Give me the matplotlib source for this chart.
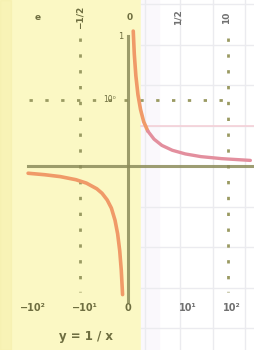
"""y = 1/x sketch: yellow half-plane for x < small, light grid on the right."""

import matplotlib
matplotlib.use("Agg")
import matplotlib.pyplot as plt

# ---- values ----
left_x = [-1.92, -1.6, -1.3, -1.0, -0.8, -0.6, -0.5, -0.4, -0.32, -0.25, -0.2, -0.16, -0.13, -0.105]
left_y = [-0.52, -0.63, -0.77, -1.0, -1.25, -1.67, -2.0, -2.5, -3.1, -4.0, -5.0, -6.25, -7.7, -9.5]
right_x = [0.1, 0.12, 0.15, 0.19, 0.24, 0.3, 0.38, 0.5, 0.65, 0.85, 1.1, 1.4, 1.8, 2.35]
right_y = [10.0, 8.3, 6.7, 5.3, 4.2, 3.3, 2.6, 2.0, 1.54, 1.18, 0.91, 0.71, 0.56, 0.43]

bottom_ticks = [-1.83, -0.83, 0.0, 1.15, 2.0]
bottom_labels = ["−10²", "−10¹", "0", "10¹", "10²"]
top_ticks = [-1.73, -0.92, 0.04, 0.96, 1.9]
top_labels = ["e", "−1/2", "0", "1/2", "10"]
top_rot = [0, 90, 0, 90, 90]

grid_x = [0.33, 1.0, 1.63, 2.25]
grid_y = [12, 9, 6, 3, -3, -6, -9, -12]
guide_x = [-0.92, 1.92]
guide_y = 4.9
split_x = 0.25

YELLOW = "#fbf8c4"
OLIVE = "#8c8c5a"
ORANGE = "#f09a68"
PINK = "#e38f9e"

fig = plt.figure(figsize=(2.54, 3.5), dpi=100)
ax = fig.add_axes([0, 0, 1, 1])
ax.set_xlim(-2.46, 2.42)
ax.set_ylim(-13.6, 12.3)
ax.axis("off")

# background: yellow half, grid on the white half
ax.axvspan(-2.46, split_x, color=YELLOW, zorder=0)
ax.axvspan(-2.46, -2.25, color="#f3eb9e", alpha=0.35, zorder=0)
ax.axvspan(split_x, 0.6, color="#faf8fc", zorder=0)
for gx in grid_x:
    ax.axvline(gx, color="#ebebef", lw=1.0, zorder=1)
for gy in grid_y:
    ax.plot([split_x, 2.42], [gy, gy], color="#ebebef", lw=1.0, zorder=1)
ax.plot([split_x, 2.42], [3.0, 3.0], color="#f4d0d8", lw=1.2, zorder=1)

# dotted guides
for gx in guide_x:
    ax.plot([gx, gx], [9.5, -9.3], color="#9a9a62", lw=2, ls=(0, (1.2, 4.5)), zorder=2)
ax.plot([-1.9, 1.95], [guide_y, guide_y], color="#9a9a62", lw=2, ls=(0, (1.2, 4.5)), zorder=2)

# axes lines
ax.plot([-1.92, 2.4], [0, 0], color=OLIVE, lw=2.2, alpha=0.85, zorder=3)
ax.plot([0, 0], [9.6, -10.0], color=OLIVE, lw=2.2, alpha=0.85, zorder=3)

# curve
ax.plot(left_x, left_y, color=ORANGE, lw=2.6, solid_capstyle="round", zorder=4)
ax.plot(right_x[:7], right_y[:7], color=ORANGE, lw=2.6, solid_capstyle="round", zorder=4)
ax.plot(right_x[6:], right_y[6:], color=PINK, lw=2.4, solid_capstyle="round", zorder=4)

# tick labels
for t, lab in zip(bottom_ticks, bottom_labels):
    c = "#6e6e40" if t < split_x else "#707070"
    ax.text(t, -10.5, lab, ha="center", va="center", fontsize=7, color=c, fontweight="bold")
for t, lab, r in zip(top_ticks, top_labels, top_rot):
    c = "#6e6e40" if t < split_x else "#707070"
    ax.text(t, 11.0, lab, ha="center", va="center", fontsize=6.5, color=c,
            rotation=r, fontweight="bold")
ax.text(-0.15, 9.6, "1", ha="center", va="center", fontsize=6, color="#6e6e40")
ax.text(-0.35, guide_y, "10⁰", ha="center", va="center", fontsize=5.5, color="#6e6e40")

ax.text(-0.8, -12.6, "y = 1 / x", ha="center", va="center", fontsize=8.5,
        color="#6e6e40", fontweight="bold")

fig.savefig("out.png", dpi=100)
